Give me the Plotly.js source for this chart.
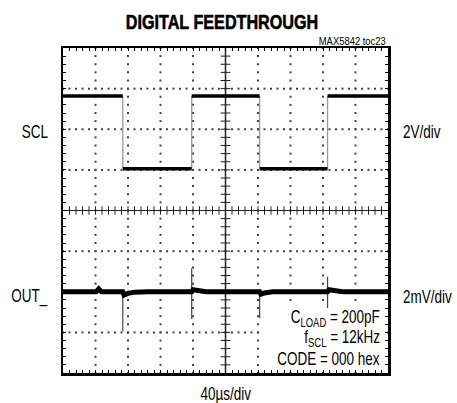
<!DOCTYPE html>
<html>
<head>
<meta charset="utf-8">
<script src="https://cdn.plot.ly/plotly-3.0.1.min.js"></script>
<style>html,body{margin:0;padding:0;background:#fff;}#chart{width:457px;height:403px;}</style>
</head>
<body>
<div id="chart"></div>
<script>
// ---- data (in screen divisions: x 0..10 at 40us/div, y -4..4) ----
const sclSegStart = [0, 1.84, 3.96, 6.05, 8.14];
const sclSegEnd   = [1.84, 3.96, 6.05, 8.14, 10];
const sclLevels   = [2.82, 1.03, 2.82, 1.03, 2.82];   // SCL, 2V/div
const sclEdges    = [1.84, 3.96, 6.05, 8.14];

const outT = [0, 0.5, 1.02, 1.1, 1.18, 1.84, 1.88, 2.0, 2.2, 2.6, 3.2, 3.96, 4.0, 4.15, 4.4, 5.0, 5.6, 6.05, 6.09, 6.2, 6.45, 7.0, 7.6, 8.14, 8.18, 8.35, 8.6, 9.2, 10];
const outV = [-2.0, -2.0, -2.0, -1.93, -2.0, -2.0, -2.08, -2.04, -2.01, -2.0, -2.0, -2.0, -1.95, -1.98, -2.0, -2.0, -2.0, -2.0, -2.06, -2.03, -2.0, -2.0, -2.0, -2.0, -1.95, -1.98, -2.0, -2.0, -2.0]; // OUT_, 2mV/div

const spikeT  = [1.84, 3.96, 6.05, 8.14];
const spikeHi = [-1.98, -1.42, -1.95, -1.63];
const spikeLo = [-2.97, -2.67, -2.65, -2.4];

const xLabel = '40\u00b5s/div';
const chartTitle = 'DIGITAL FEEDTHROUGH';
const note = 'MAX5842 toc23';
const condLines = ['C<sub>LOAD</sub> = 200pF', 'f<sub>SCL</sub> = 12kHz', 'CODE = 000 hex'];

// ---- fonts: Arial-metric face, condensed horizontally after drawing ----
const FONT = "'Liberation Sans', Arial, sans-serif";

// ---- layout helpers ----
const W = 457, H = 403, ML = 63, MR = 69, MT = 48, MB = 30;
const PW = W - ML - MR, PH = H - MT - MB;
const px = x => (x - ML) / PW;
const py = y => (H - MB - y) / PH;
const dx = x => (x - ML) / PW * 10;        // pixel -> division
const dy = y => 4 - (y - MT) / PH * 8;

// grid dots
const gx = [], gy = [];
for (let v = 1; v <= 9; v++) { if (v === 5) continue; for (let k = 0; k <= 40; k++) { gx.push(v); gy.push(-4 + k * 0.2); } }
for (let h = -3; h <= 3; h++) { if (h === 0) continue; for (let k = 0; k <= 50; k++) { gx.push(k * 0.2); gy.push(h); } }
// center tick marks
const chx = [], chy = [], cvx = [], cvy = [];
for (let k = 1; k < 50; k++) { chx.push(k * 0.2); chy.push(0); }
for (let k = 1; k < 40; k++) { cvx.push(5); cvy.push(-4 + k * 0.2); }

// SCL traces
const lx = [], ly = [];
sclLevels.forEach((lv, i) => { lx.push(sclSegStart[i], sclSegEnd[i], null); ly.push(lv, lv, null); });
const ex = [], ey = [];
sclEdges.forEach((e, i) => { ex.push(e, e, null); ey.push(sclLevels[i], sclLevels[i + 1], null); });
// spikes
const sx = [], sy = [];
spikeT.forEach((t, i) => { sx.push(t, t, null); sy.push(spikeHi[i], spikeLo[i], null); });

// white box behind the conditions text
const bx0 = dx(263), bx1 = dx(385), by0 = dy(304), by1 = dy(370);

const traces = [
  {x: gx, y: gy, mode: 'markers', marker: {symbol: 'square', size: 2, color: '#444'}, hoverinfo: 'skip'},
  {x: [0, 10], y: [0, 0], mode: 'lines', line: {color: '#222', width: 1}, hoverinfo: 'skip'},
  {x: [5, 5], y: [-4, 4], mode: 'lines', line: {color: '#222', width: 1.5}, hoverinfo: 'skip'},
  {x: chx, y: chy, mode: 'markers', marker: {symbol: 'line-ns-open', size: 6, color: '#222', line: {width: 1, color: '#222'}}, hoverinfo: 'skip'},
  {x: cvx, y: cvy, mode: 'markers', marker: {symbol: 'line-ew-open', size: 7, color: '#222', line: {width: 1, color: '#222'}}, hoverinfo: 'skip'},
  {x: [bx0, bx1, bx1, bx0, bx0], y: [by0, by0, by1, by1, by0], mode: 'lines', fill: 'toself', fillcolor: '#fff', line: {width: 0, color: 'rgba(0,0,0,0)'}, hoverinfo: 'skip'},
  {x: ex, y: ey, mode: 'lines', line: {color: '#999', width: 1.3}, hoverinfo: 'skip'},
  {x: lx, y: ly, mode: 'lines', line: {color: '#000', width: 3.5}, hoverinfo: 'skip'},
  {x: sx, y: sy, mode: 'lines', line: {color: '#444', width: 1.2}, hoverinfo: 'skip'},
  {x: outT, y: outV, mode: 'lines', line: {color: '#000', width: 5}, hoverinfo: 'skip'}
];

const ann = (text, x, y, xa, size, squeeze, weight) => ({text: text, xref: 'paper', yref: 'paper', x: px(x), y: py(y), xanchor: xa, yanchor: 'middle', showarrow: false, font: {family: FONT, size: size, color: '#000', weight: weight || 'normal'}, _sq: squeeze});

const annSpec = [
  ann(chartTitle, 222.4, 21.5, 'center', 21, 0.77, 'bold'),
  ann(note, 388, 40.7, 'right', 11.5, 0.82),
  ann('SCL', 50, 131.7, 'right', 18, 0.75),
  ann('2V/div', 401, 131.7, 'left', 18, 0.75),
  ann('OUT_', 50, 296.7, 'right', 18, 0.75),
  ann('2mV/div', 401, 296.7, 'left', 18, 0.75),
  ann(xLabel, 226, 394, 'center', 18, 0.75),
  ann(condLines[0], 382, 318, 'right', 18, 0.75),
  ann(condLines[1], 382, 338.5, 'right', 18, 0.75),
  ann(condLines[2], 382, 359, 'right', 18, 0.75)
];
const annotations = annSpec.map(a => { const c = Object.assign({}, a); delete c._sq; return c; });

const axisCommon = {showgrid: false, zeroline: false, showticklabels: false, ticks: 'inside', ticklen: 3, tickwidth: 1, tickcolor: '#000', showline: true, linewidth: 2.5, linecolor: '#000', mirror: 'ticks', fixedrange: true};

const layout = {
  width: W, height: H,
  margin: {l: ML, r: MR, t: MT, b: MB, pad: 0},
  paper_bgcolor: '#fff', plot_bgcolor: '#fff',
  showlegend: false,
  xaxis: Object.assign({range: [0, 10], dtick: 0.2, tick0: 0}, axisCommon),
  yaxis: Object.assign({range: [-4, 4], dtick: 0.2, tick0: 0}, axisCommon),
  annotations: annotations
};

Plotly.newPlot('chart', traces, layout, {staticPlot: true, displayModeBar: false}).then(gd => {
  // horizontally condense annotation texts around their anchor
  const groups = gd.querySelectorAll('.annotation');
  groups.forEach((g, i) => {
    const a = annSpec[i];
    if (!a) return;
    const t = g.querySelector('text.annotation-text');
    if (!t) return;
    const bb = t.getBBox();
    const ax = a.xanchor === 'left' ? bb.x : (a.xanchor === 'right' ? bb.x + bb.width : bb.x + bb.width / 2);
    const prev = t.getAttribute('transform') || '';
    t.setAttribute('transform', prev + ' translate(' + ax + ',0) scale(' + a._sq + ',1) translate(' + (-ax) + ',0)');
    if (i === 0) { t.style.stroke = '#000'; t.style.strokeWidth = '0.6px'; }
  });
});
</script>
</body>
</html>
